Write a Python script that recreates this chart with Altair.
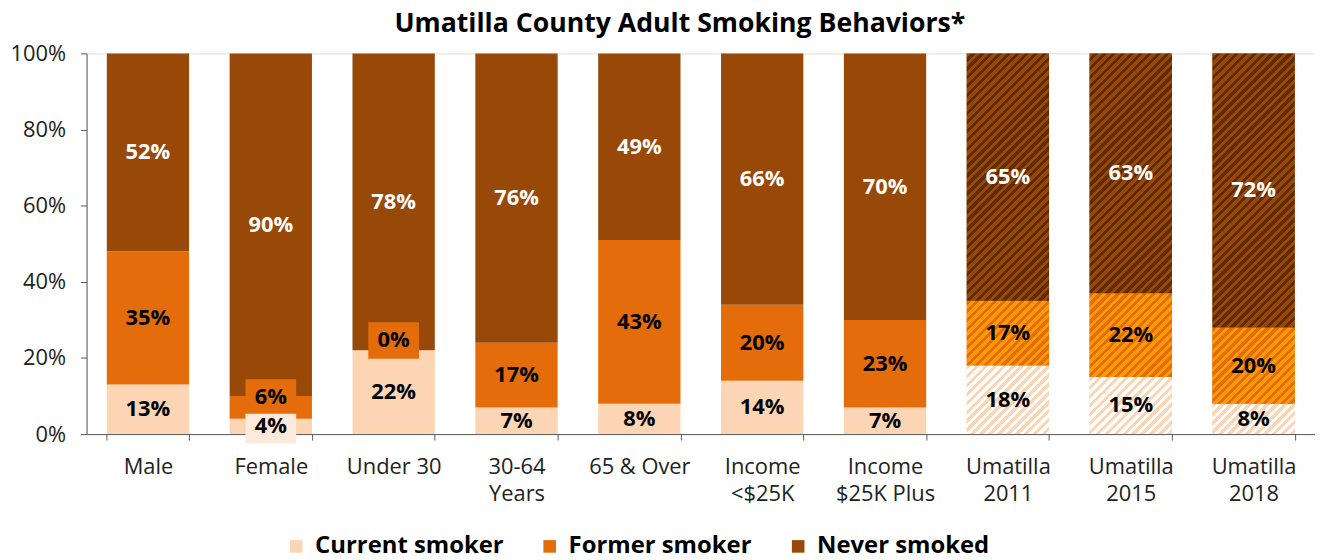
import altair as alt
import pandas as pd

# ---- data ----
categories = ["Male", "Female", "Under 30", "30-64|Years", "65 & Over",
              "Income|<$25K", "Income|$25K Plus", "Umatilla|2011",
              "Umatilla|2015", "Umatilla|2018"]
series = ["Current smoker", "Former smoker", "Never smoked"]
current = [13, 4, 22, 7, 8, 14, 7, 18, 15, 8]
former = [35, 6, 0, 17, 43, 20, 23, 17, 22, 20]
never = [52, 90, 78, 76, 49, 66, 70, 65, 63, 72]
hatched_categories = ["Umatilla|2011", "Umatilla|2015", "Umatilla|2018"]

# ---- styles ----
FONT = "Open Sans"
solid = ["#FCD5B5", "#E46C0A", "#984807"]
hatch_pairs = {
    "Current smoker": ("#FCD5B5", "#FFFFFF"),
    "Former smoker": ("#E46C0A", "#FF9A00"),
    "Never smoked": ("#984807", "#602B00"),
}
W, H = 1236, 383
PAD_IN = 0.33
STEP = W / len(categories)
BAR_W = STEP * (1 - PAD_IN)

rows = []
for i, c in enumerate(categories):
    for k, (s, vals) in enumerate(zip(series, [current, former, never])):
        rows.append({"category": c, "series": s, "value": vals[i], "order": k,
                     "label": f"{vals[i]}%"})
df = pd.DataFrame(rows)


def hatch(w, h, c1, c2, period=9.0, frac=0.5):
    a = w * (w + h) / (w * w + h * h)
    b = h * (w + h) / (w * w + h * h)
    L = w + h
    stops = []
    k = 0
    while k * period < L:
        s0 = min(1.0, k * period / L)
        s1 = min(1.0, (k * period + frac * period) / L)
        s2 = min(1.0, (k + 1) * period / L)
        stops += [{"offset": s0, "color": c1}, {"offset": s1, "color": c1},
                  {"offset": s1, "color": c2}, {"offset": s2, "color": c2}]
        k += 1
    return {"gradient": "linear", "x1": 0, "y1": 0, "x2": a, "y2": b, "stops": stops}


xenc = alt.X("category:N", sort=categories, title=None,
             scale=alt.Scale(paddingInner=PAD_IN, paddingOuter=PAD_IN / 2, round=False),
             axis=alt.Axis(labelExpr="split(datum.label, '|')", labelAngle=0,
                           labelFont=FONT, labelFontSize=22, labelColor="#222222",
                           labelLineHeight=27, labelPadding=17, tickBand="extent",
                           tickSize=6, domainColor="#595959", tickColor="#595959",
                           labelLimit=300))
yscale = alt.Scale(domain=[0, 100], nice=False)

base = alt.Chart(df).transform_stack(
    stack="value", groupby=["category"], as_=["y0", "y1"],
    sort=[alt.SortField("order", order="ascending")])

bars = base.mark_bar().encode(
    x=xenc,
    y=alt.Y("y0:Q", scale=yscale, title=None,
            axis=alt.Axis(values=[0, 20, 40, 60, 80, 100], labelExpr="datum.value + '%'",
                          labelFont=FONT, labelFontSize=22, labelColor="#222222",
                          labelPadding=15, tickSize=6, grid=False,
                          domainColor="#595959", tickColor="#595959")),
    y2="y1:Q",
    color=alt.Color("series:N", sort=series,
                    scale=alt.Scale(domain=series, range=solid),
                    legend=alt.Legend(title=None, orient="none", direction="horizontal",
                                      legendX=199, legendY=484, columns=3,
                                      symbolType="square", symbolSize=160,
                                      symbolStrokeWidth=0, labelFont=FONT,
                                      labelFontSize=24, labelFontWeight="bold",
                                      labelColor="#000000", labelLimit=400,
                                      labelOffset=7, columnPadding=34)),
)

layers = [bars]
for ci, c in enumerate(categories):
    if c not in hatched_categories:
        continue
    for s, vals in zip(series, [current, former, never]):
        h = vals[ci] / 100 * H
        c1, c2 = hatch_pairs[s]
        g = hatch(BAR_W, h, c1, c2)
        layers.append(
            base.transform_filter(
                (alt.datum.category == c) & (alt.datum.series == s)
            ).mark_bar().encode(
                x=xenc, y=alt.Y("y0:Q", scale=yscale), y2="y1:Q",
                fill=alt.value(g))
        )

boxed_former = (((alt.datum.category == "Female") | (alt.datum.category == "Under 30"))
                & (alt.datum.series == "Former smoker"))
boxed_current = (alt.datum.category == "Female") & (alt.datum.series == "Current smoker")

mid = base.transform_calculate(mid="(datum.y0 + datum.y1) / 2")

text_color = alt.condition(alt.datum.series == "Never smoked",
                           alt.value("#FFFFFF"), alt.value("#000000"))

labels = mid.transform_filter(~boxed_former & ~boxed_current).mark_text(
    font=FONT, fontSize=22, fontWeight="bold", baseline="middle"
).encode(x=xenc, y=alt.Y("mid:Q", scale=yscale), text="label:N", color=text_color)

box_f = mid.transform_filter(boxed_former).mark_point(
    shape="M-1,-0.72H1V0.72H-1Z", size=51 * 51, filled=True, opacity=1,
    fill="#E46C0A", strokeWidth=0, yOffset=-10
).encode(x=xenc, y=alt.Y("mid:Q", scale=yscale))
text_f = mid.transform_filter(boxed_former).mark_text(
    font=FONT, fontSize=22, fontWeight="bold", baseline="middle", dy=-10, color="#000000"
).encode(x=xenc, y=alt.Y("mid:Q", scale=yscale), text="label:N")

box_c = mid.transform_filter(boxed_current).mark_point(
    shape="M-1,-0.58H1V0.58H-1Z", size=51 * 51, filled=True, opacity=1,
    fill="#FDEADA", strokeWidth=0, yOffset=2
).encode(x=xenc, y=alt.Y("mid:Q", scale=yscale))
text_c = mid.transform_filter(boxed_current).mark_text(
    font=FONT, fontSize=22, fontWeight="bold", baseline="middle", color="#000000"
).encode(x=xenc, y=alt.Y("mid:Q", scale=yscale), text="label:N")

layers += [labels, box_f, text_f, box_c, text_c]

chart = alt.layer(*layers).properties(
    width=W, height=H,
    title=alt.TitleParams("Umatilla County Adult Smoking Behaviors*", font=FONT,
                          fontSize=26.8, fontWeight="bold", color="#000000",
                          anchor="middle", dx=-21, offset=5),
    autosize=alt.AutoSizeParams(type="none"),
    padding={"left": 79, "top": 44, "right": 0, "bottom": 125},
).configure_view(stroke=None).configure(background="white")

chart.save("out.html", embed_options={"renderer": "svg", "actions": False})
